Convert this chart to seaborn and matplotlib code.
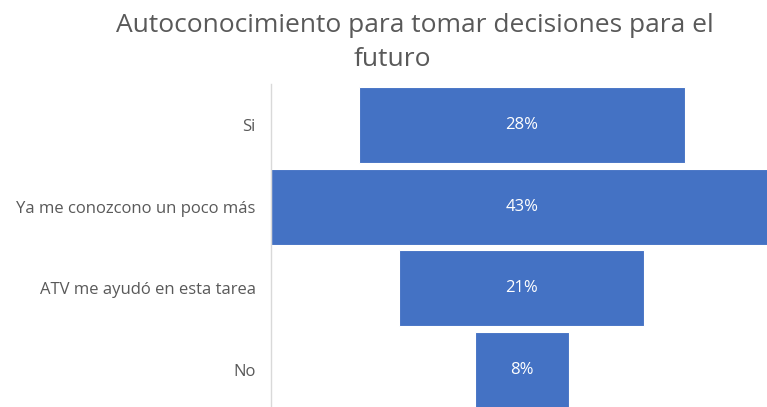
import numpy as np
import pandas as pd
import seaborn as sns
import matplotlib.pyplot as plt

# Data
categories = ['Si', 'Ya me conozcono un poco más', 'ATV me ayudó en esta tarea', 'No']
values = [28, 43, 21, 8]
labels = ['28%', '43%', '21%', '8%']

df = pd.DataFrame({'categoria': categories, 'valor': values})

sns.set_style('white')
plt.rcParams['font.family'] = ['Open Sans', 'DejaVu Sans']

fig = plt.figure(figsize=(7.67, 4.07), dpi=100)
ax = fig.add_axes([271 / 767, -4 / 407, 496 / 767, 327 / 407])

sns.barplot(data=df, x='valor', y='categoria', color='#4472C4', saturation=1,
            width=0.93, edgecolor='white', linewidth=0.8, ax=ax)

# funnel: center every bar on the widest one
center = max(values) / 2
for p, v, lab in zip(ax.patches, values, labels):
    p.set_x(center - p.get_width() / 2)
    ax.text(center, p.get_y() + p.get_height() / 2, lab, color='white',
            ha='center', va='center', fontsize=12)

ax.set_xlim(0, 42.5)
ax.set_ylim(3.5, -0.5)
ax.set_xlabel('')
ax.set_ylabel('')
ax.set_xticks([])
ax.tick_params(axis='y', length=0, pad=11, labelsize=12, labelcolor='#595959')
for s in ['top', 'right', 'bottom']:
    ax.spines[s].set_visible(False)
ax.spines['left'].set_color('#D9D9D9')
ax.spines['left'].set_linewidth(1)

fig.text(415 / 767, 1 - 25 / 407, 'Autoconocimiento para tomar decisiones para el',
         ha='center', va='center', fontsize=19, color='#595959')
fig.text(392 / 767, 1 - 59 / 407, 'futuro',
         ha='center', va='center', fontsize=19, color='#595959')

fig.savefig('out.png', dpi=100)
